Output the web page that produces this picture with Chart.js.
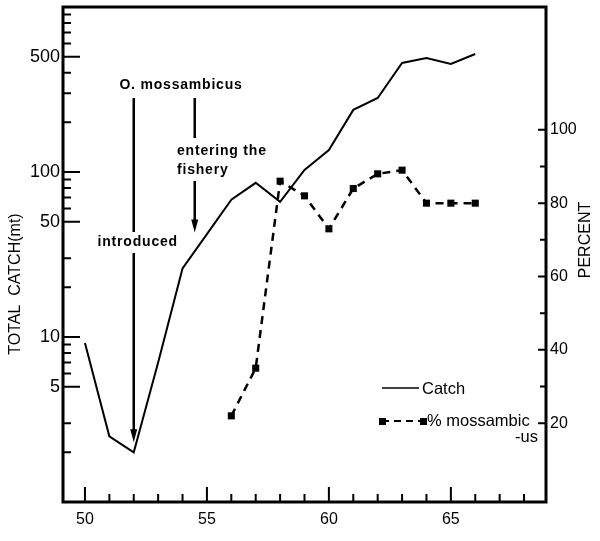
<!DOCTYPE html>
<html>
<head>
<meta charset="utf-8">
<script src="https://cdn.jsdelivr.net/npm/chart.js@4"></script>
<style>
  body { margin: 0; background: #fff; }
  canvas { display: block; }
</style>
</head>
<body>
<canvas id="grafica" width="600" height="541"></canvas>
<script>
// catch per year (metric tonnes, log scale)
const years = [50, 51, 52, 53, 54, 55, 56, 57, 58, 59, 60, 61, 62, 63, 64, 65, 66];
const catchTonnes = [9.2, 2.5, 2.0, 7.0, 26, 42, 68, 86, 66, 103, 136, 238, 281, 458, 490, 452, 519];

// percentage of O. mossambicus in the catch
const pctYears = [56, 57, 58, 59, 60, 61, 62, 63, 64, 65, 66];
const pctMossambicus = [22, 35, 86, 82, 73, 84, 88, 89, 80, 80, 80];

// tick marks and labels
const yearTicks = [50, 51, 52, 53, 54, 55, 56, 57, 58, 59, 60, 61, 62, 63, 64, 65, 66, 67, 68];
const yearLabels = [50, 55, 60, 65];
const catchTicks = [2, 3, 5, 6, 7, 8, 9, 10, 20, 30, 50, 60, 70, 80, 90, 100, 200, 300, 400, 500, 600, 700, 800, 900];
const catchLabels = [5, 10, 50, 100, 500];
const pctTicks = [20, 30, 40, 50, 60, 70, 80, 90, 100];
const pctLabels = [20, 40, 60, 80, 100];

const fuente = '"Liberation Sans", Arial, sans-serif';

const marco = {
  id: 'marco',
  afterDraw(chart) {
    const ctx = chart.ctx;
    const a = chart.chartArea;
    const sx = chart.scales.x, sy = chart.scales.y, sp = chart.scales.pct;
    ctx.save();
    ctx.strokeStyle = '#000';
    ctx.fillStyle = '#000';

    // box
    ctx.lineWidth = 3;
    ctx.strokeRect(a.left, a.top, a.right - a.left, a.bottom - a.top);

    // inward ticks
    ctx.lineWidth = 2;
    ctx.beginPath();
    sx.ticks.forEach(t => {
      const px = sx.getPixelForValue(t.value);
      const len = yearLabels.includes(t.value) ? 15 : 8;
      ctx.moveTo(px, a.bottom);
      ctx.lineTo(px, a.bottom - len);
    });
    sy.ticks.forEach(t => {
      const py = sy.getPixelForValue(t.value);
      const len = catchLabels.includes(t.value) ? 17 : 8;
      ctx.moveTo(a.left, py);
      ctx.lineTo(a.left + len, py);
    });
    sp.ticks.forEach(t => {
      const py = sp.getPixelForValue(t.value);
      const len = pctLabels.includes(t.value) ? 8 : 6;
      ctx.moveTo(a.right, py);
      ctx.lineTo(a.right - len, py);
    });
    ctx.stroke();

    // axis titles
    ctx.font = '16px ' + fuente;
    ctx.textAlign = 'center';
    ctx.textBaseline = 'middle';
    ctx.save();
    ctx.translate(16, 284);
    ctx.rotate(-Math.PI / 2);
    ctx.fillText('TOTAL  CATCH(mt)', 0, 0);
    ctx.restore();
    ctx.save();
    ctx.translate(586, 240);
    ctx.rotate(-Math.PI / 2);
    ctx.fillText('PERCENT', 0, 0);
    ctx.restore();

    // annotations
    const flecha = (x, y0, y1) => {
      ctx.lineWidth = 2.5;
      ctx.beginPath();
      ctx.moveTo(x, y0);
      ctx.lineTo(x, y1 - 10);
      ctx.stroke();
      ctx.beginPath();
      ctx.moveTo(x - 3.5, y1 - 13);
      ctx.lineTo(x + 3.5, y1 - 13);
      ctx.lineTo(x, y1);
      ctx.closePath();
      ctx.fill();
    };
    const x1 = sx.getPixelForValue(52);
    const x2 = sx.getPixelForValue(54.5);
    ctx.font = 'bold 14px ' + fuente;
    ctx.letterSpacing = '0.8px';
    ctx.fillText('O. mossambicus', 181, 85);
    ctx.fillText('introduced', x1 + 4, 242);
    ctx.textAlign = 'left';
    ctx.fillText('entering the', 177, 151);
    ctx.fillText('fishery', 177, 170);
    ctx.letterSpacing = '0px';
    ctx.lineWidth = 2.5;
    ctx.beginPath();
    ctx.moveTo(x1, 98);
    ctx.lineTo(x1, 232);
    ctx.moveTo(x2, 98);
    ctx.lineTo(x2, 138);
    ctx.stroke();
    flecha(x1, 253, sy.getPixelForValue(2.3));
    flecha(x2, 181, sy.getPixelForValue(43));

    // legend
    ctx.font = '16.5px ' + fuente;
    ctx.textBaseline = 'middle';
    ctx.lineWidth = 1.5;
    ctx.beginPath();
    ctx.moveTo(382, 388);
    ctx.lineTo(419, 388);
    ctx.stroke();
    ctx.fillText('Catch', 422, 389);
    ctx.lineWidth = 2;
    ctx.setLineDash([7, 5]);
    ctx.beginPath();
    ctx.moveTo(382, 421);
    ctx.lineTo(423, 421);
    ctx.stroke();
    ctx.setLineDash([]);
    ctx.fillRect(379, 418, 7, 7);
    ctx.fillRect(420, 418, 7, 7);
    ctx.fillText('% mossambic', 427, 421);
    ctx.textAlign = 'right';
    ctx.fillText('-us', 538, 437);
    ctx.restore();
  }
};

// fixed axis sizes so the plot box sits where the original frame is
const fijarVertical = ancho => s => {
  s.width = ancho;
  s.paddingTop = 7;
  s.paddingBottom = 0;
};

new Chart(document.getElementById('grafica').getContext('2d'), {
  type: 'line',
  data: {
    datasets: [
      {
        label: 'Catch',
        data: years.map((yr, i) => ({ x: yr, y: catchTonnes[i] })),
        borderColor: '#000',
        borderWidth: 2,
        pointRadius: 0,
        tension: 0,
        yAxisID: 'y'
      },
      {
        label: '% mossambicus',
        data: pctYears.map((yr, i) => ({ x: yr, y: pctMossambicus[i] })),
        borderColor: '#000',
        backgroundColor: '#000',
        borderWidth: 2.5,
        borderDash: [8, 6],
        pointStyle: 'rect',
        pointRadius: 5,
        pointBorderWidth: 0,
        tension: 0,
        yAxisID: 'pct'
      }
    ]
  },
  options: {
    responsive: false,
    animation: false,
    devicePixelRatio: 1,
    layout: { padding: 0 },
    plugins: { legend: { display: false }, tooltip: { enabled: false } },
    scales: {
      x: {
        type: 'linear',
        min: 49.1,
        max: 68.9,
        grid: { display: false, drawTicks: false },
        border: { display: false },
        afterBuildTicks: s => { s.ticks = yearTicks.map(v => ({ value: v })); },
        afterFit: s => { s.height = 39; s.paddingLeft = 0; s.paddingRight = 0; },
        ticks: {
          padding: 8,
          maxRotation: 0,
          autoSkip: false,
          color: '#000',
          font: { family: fuente, size: 16 },
          callback: v => yearLabels.includes(v) ? String(v) : ''
        }
      },
      y: {
        type: 'logarithmic',
        position: 'left',
        min: 1,
        max: 1000,
        grid: { display: false, drawTicks: false },
        border: { display: false },
        afterBuildTicks: s => { s.ticks = catchTicks.map(v => ({ value: v })); },
        afterFit: fijarVertical(63),
        ticks: {
          padding: 3,
          autoSkip: false,
          color: '#000',
          font: { family: fuente, size: 18 },
          callback: v => catchLabels.includes(v) ? String(v) : ''
        }
      },
      pct: {
        type: 'linear',
        position: 'right',
        min: -1.5,
        max: 133.5,
        grid: { display: false, drawTicks: false },
        border: { display: false },
        afterBuildTicks: s => { s.ticks = pctTicks.map(v => ({ value: v })); },
        afterFit: fijarVertical(54),
        ticks: {
          padding: 4,
          autoSkip: false,
          color: '#000',
          font: { family: fuente, size: 16 },
          callback: v => pctLabels.includes(v) ? String(v) : ''
        }
      }
    }
  },
  plugins: [marco]
});
</script>
</body>
</html>
